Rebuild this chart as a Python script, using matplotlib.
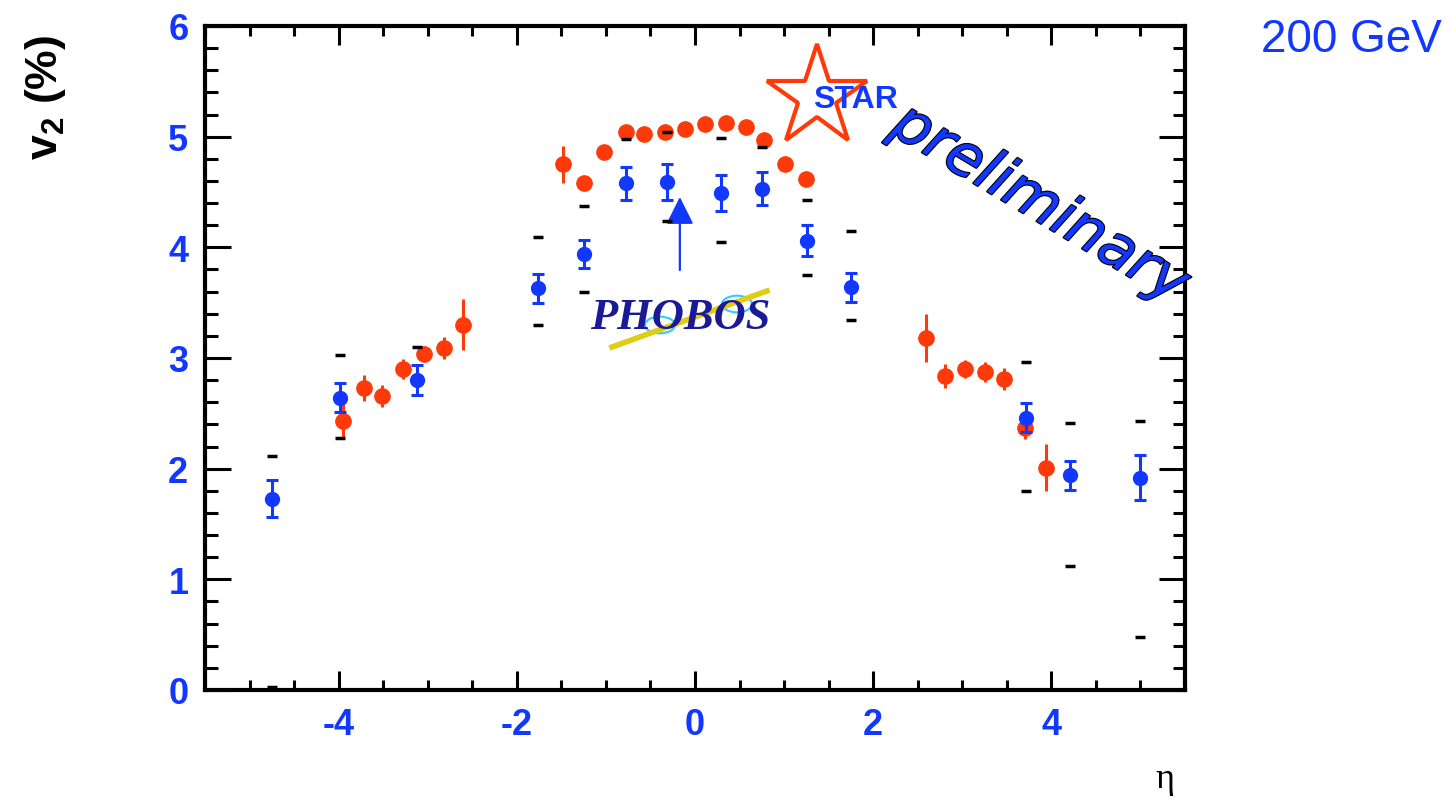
import numpy as np
import matplotlib
matplotlib.use("Agg")
import matplotlib.pyplot as plt
from matplotlib.ticker import MultipleLocator
from matplotlib import patheffects
from matplotlib.lines import Line2D
from matplotlib.patches import Circle

# PHOBOS (blue squares) with systematic band edges (black dashes)
phobos_eta = [-4.75, -3.99, -3.12, -1.76, -1.25, -0.77, -0.31, 0.29, 0.75, 1.26, 1.75, 3.71, 4.21, 5.00]
phobos_v2 = [1.73, 2.64, 2.80, 3.63, 3.94, 4.58, 4.59, 4.49, 4.53, 4.06, 3.64, 2.46, 1.94, 1.92]
phobos_err = [0.17, 0.13, 0.135, 0.13, 0.13, 0.15, 0.16, 0.16, 0.15, 0.14, 0.13, 0.13, 0.13, 0.20]
phobos_sys_hi = [2.11, 3.03, 3.10, 4.09, 4.37, 4.98, 5.04, 4.99, 4.91, 4.43, 4.15, 2.96, 2.41, 2.43]
phobos_sys_lo = [0.03, 2.28, np.nan, 3.30, 3.60, np.nan, 4.24, 4.05, np.nan, 3.75, 3.34, 1.80, 1.12, 0.48]

# STAR (red circles)
star_eta = [-3.95, -3.72, -3.51, -3.28, -3.04, -2.82, -2.60,
            -1.48, -1.25, -1.02, -0.77, -0.57, -0.34, -0.11, 0.11, 0.35, 0.57, 0.78, 1.01, 1.25,
            2.59, 2.81, 3.03, 3.26, 3.47, 3.70, 3.94]
star_v2 = [2.43, 2.73, 2.66, 2.90, 3.04, 3.09, 3.30,
           4.75, 4.58, 4.86, 5.04, 5.02, 5.04, 5.07, 5.11, 5.12, 5.09, 4.97, 4.75, 4.62,
           3.18, 2.84, 2.90, 2.87, 2.81, 2.37, 2.01]
star_err = [0.16, 0.12, 0.10, 0.09, 0.07, 0.10, 0.23,
            0.17, 0.05, 0.04, 0.04, 0.04, 0.04, 0.04, 0.04, 0.04, 0.04, 0.04, 0.04, 0.04,
            0.22, 0.11, 0.08, 0.09, 0.10, 0.10, 0.21]

xticks = [-4, -2, 0, 2, 4]
yticks = [0, 1, 2, 3, 4, 5, 6]

blue = "#1238ff"
red = "#ff3a0a"

plt.rcParams["font.family"] = ["Liberation Sans", "DejaVu Sans"]
plt.rcParams["axes.unicode_minus"] = False
plt.rcParams["mathtext.fontset"] = "custom"
plt.rcParams["mathtext.bf"] = "Liberation Sans:bold"
plt.rcParams["mathtext.default"] = "bf"

W, H = 1449, 804
fig = plt.figure(figsize=(W / 100, H / 100), dpi=100)
ax = fig.add_axes([205 / W, 1 - 691 / H, 980 / W, 664 / H])

# data
ax.errorbar(star_eta, star_v2, yerr=star_err, xerr=0.07, fmt="o", color=red,
            markersize=11, elinewidth=2.2, capsize=0, zorder=3)
ax.errorbar(phobos_eta, phobos_v2, yerr=phobos_err, fmt="o", color=blue,
            markersize=10, elinewidth=2.2, capsize=4, capthick=2.2, zorder=4)
ax.plot(phobos_eta, phobos_sys_hi, linestyle="none", marker="_", color="black",
        markersize=7, markeredgewidth=2.5, zorder=5)
ax.plot(phobos_eta, phobos_sys_lo, linestyle="none", marker="_", color="black",
        markersize=7, markeredgewidth=2.5, zorder=5)

ax.set_xlim(-5.5, 5.5)
ax.set_ylim(0, 6)
ax.set_xticks(xticks)
ax.set_yticks(yticks)
ax.xaxis.set_minor_locator(MultipleLocator(0.5))
ax.yaxis.set_minor_locator(MultipleLocator(0.2))
for s in ax.spines.values():
    s.set_linewidth(3)
ax.tick_params(which="both", direction="in", top=True, right=True, width=2.2)
ax.tick_params(axis="x", which="major", length=14, pad=12)
ax.tick_params(axis="x", which="minor", length=7)
ax.tick_params(axis="y", which="major", length=19, pad=12)
ax.tick_params(axis="y", which="minor", length=9)
for lab in ax.get_xticklabels() + ax.get_yticklabels():
    lab.set_color(blue)
    lab.set_fontweight("bold")
    lab.set_fontsize(26)

# axis titles
fig.text(46 / W, 1 - 97 / H, r"$v_2$ (%)", rotation=90, fontsize=32,
         fontweight="bold", ha="center", va="center")
fig.text(1165 / W, 1 - 780 / H, "η", fontsize=26, family="Liberation Serif",
         ha="center", va="center")
fig.text(1442 / W, 1 - 40 / H, "200 GeV", fontsize=33, color=blue,
         ha="right", va="center")

# STAR logo
fig.add_artist(Line2D([817 / W], [1 - 98 / H], marker="*", markersize=76,
                      markerfacecolor="none", markeredgecolor=red,
                      markeredgewidth=3, transform=fig.transFigure))
fig.text(855 / W, 1 - 100 / H, "STAR", fontsize=23, fontweight="bold",
         color=blue, ha="center", va="center")

# preliminary
fig.text(1040 / W, 1 - 205 / H, "preliminary", fontsize=42, style="oblique",
         family="DejaVu Sans", color=blue, rotation=-31, rotation_mode="anchor",
         ha="center", va="center",
         path_effects=[patheffects.Stroke(linewidth=1.6, foreground="black"),
                       patheffects.Normal()])

# PHOBOS logo with arrow
ax.annotate("", xy=(-0.17, 4.48), xytext=(-0.17, 3.77),
            arrowprops=dict(arrowstyle="-|>", color=blue, lw=1.6, mutation_scale=42))
fig.add_artist(Line2D([612 / W, 767 / W], [1 - 348 / H, 1 - 292 / H],
                      color="#e0cc10", linewidth=4, transform=fig.transFigure))
for cx, cy in [(660, 326), (737, 305)]:
    fig.add_artist(Circle((cx / W, 1 - cy / H), 15 / W, transform=fig.transFigure,
                          fill=False, edgecolor="#33c8ff", linewidth=1.5))
fig.text(680 / W, 1 - 318 / H, "PHOBOS", fontsize=32, family="Liberation Serif",
         style="italic", fontweight="bold", color="#1a1a96", ha="center", va="center")

fig.savefig("out.png", dpi=100)
